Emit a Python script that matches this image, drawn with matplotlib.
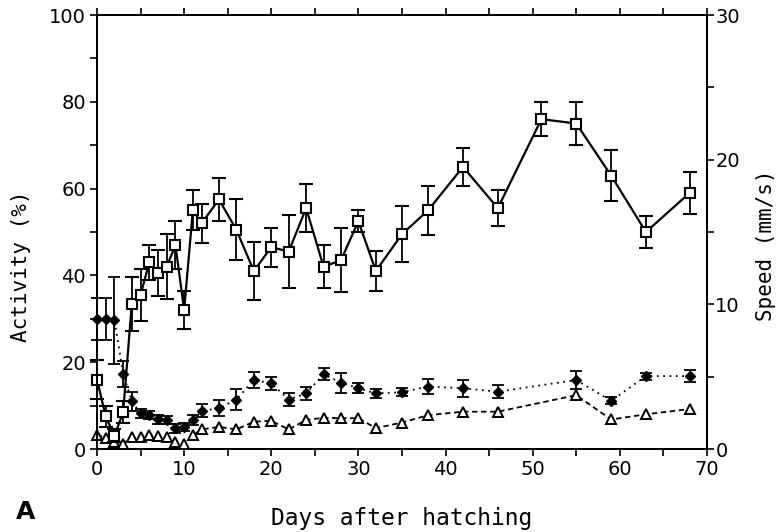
"""
Activity / speed after hatching — redraw of panel A.
Three series on a shared day axis, speed scale mirrored on the right.
"""
import matplotlib
matplotlib.use("Agg")
import matplotlib.pyplot as plt
from matplotlib.ticker import MultipleLocator

# ── data ──────────────────────────────────────────────────────────────────────
sq_days = [0, 1, 2, 3, 4, 5, 6, 7, 8, 9, 10, 11, 12, 14, 16, 18, 20, 22, 24, 26,
           28, 30, 32, 35, 38, 42, 46, 51, 55, 59, 63, 68]
sq_vals = [16, 7.5, 3, 8.5, 33.5, 35.5, 43, 40.5, 42, 47, 32, 55, 52, 57.5, 50.5,
           41, 46.5, 45.5, 55.5, 42, 43.5, 52.5, 41, 49.5, 55, 65, 55.5, 76, 75,
           63, 50, 59]
sq_err  = [4.5, 2.5, 1.5, 2.5, 6.2, 6, 4, 5.3, 7.5, 5.6, 4.4, 4.6, 4.5, 5, 7,
           6.6, 4.5, 8.4, 5.6, 4.9, 7.4, 2.5, 4.6, 6.4, 5.7, 4.4, 4.1, 3.9, 4.9,
           5.9, 3.8, 4.8]

dm_days = [0, 1, 2, 3, 4, 5, 6, 7, 8, 9, 10, 11, 12, 14, 16, 18, 20, 22, 24, 26,
           28, 30, 32, 35, 38, 42, 46, 55, 59, 63, 68]
dm_vals = [30, 30, 29.7, 17.3, 11, 8.2, 7.8, 6.8, 6.7, 4.8, 5.1, 6.7, 8.8, 9.4,
           11.4, 15.9, 15.1, 11.4, 12.8, 17.2, 15.3, 14, 12.8, 13.1, 14.4, 14,
           13.2, 15.9, 11.1, 16.8, 16.8]
dm_err  = [4.8, 4.8, 10, 3, 2.2, 1, 1, 1, 1, 1, 1, 1.2, 1.5, 1.8, 2.4, 1.8, 1.5,
           1.6, 1.5, 1.4, 2.3, 1.2, 1, 1, 1.8, 2, 1.5, 2, 0.8, 0.8, 1.3]

tr_days = [0, 1, 2, 3, 4, 5, 6, 7, 8, 9, 10, 11, 12, 14, 16, 18, 20, 22, 24, 26,
           28, 30, 32, 35, 38, 42, 46, 55, 59, 63, 68]
tr_vals = [3.3, 2.5, 1.7, 1.2, 2.8, 2.8, 3.2, 3, 2.8, 1.7, 1.2, 3.2, 4.5, 5.1,
           4.5, 6.3, 6.5, 4.5, 6.7, 7.2, 7.1, 7.1, 4.8, 6.1, 7.8, 8.6, 8.6, 12.4,
           6.8, 8, 9.2]

x_ticks  = [0, 10, 20, 30, 40, 50, 60, 70]
yl_ticks = [0, 20, 40, 60, 80, 100]
yr_ticks = [0, 10, 20, 30]

MONO = "DejaVu Sans Mono"
INK = "black"


def main():
    fig = plt.figure(figsize=(7.81, 5.32), dpi=100)
    ax = fig.add_axes([0.1242, 0.156, 0.781, 0.8158])

    # ── series ────────────────────────────────────────────────────────────────
    ax.errorbar(dm_days, dm_vals, yerr=dm_err, fmt="D", ls=(0, (1, 2.5)),
                color=INK, lw=1.3, ms=5, mfc=INK, mec=INK, elinewidth=1.3,
                capsize=4.5, capthick=1.3, zorder=3, clip_on=False)
    ax.plot(tr_days, tr_vals, marker="^", ls=(0, (3, 2)), color=INK, lw=1.3,
            ms=7.5, mfc="white", mec=INK, mew=1.4, zorder=4, clip_on=False)
    ax.errorbar(sq_days, sq_vals, yerr=sq_err, fmt="s", ls="-", color=INK,
                lw=1.6, ms=6.5, mfc="white", mec=INK, mew=1.5, elinewidth=1.3,
                capsize=5, capthick=1.3, zorder=5, clip_on=False)

    # ── axes / ticks ──────────────────────────────────────────────────────────
    ax.set_xlim(0, 70); ax.set_ylim(0, 100)
    ax.set_xticks(x_ticks); ax.set_yticks(yl_ticks)
    ax.xaxis.set_minor_locator(MultipleLocator(5))
    ax.yaxis.set_minor_locator(MultipleLocator(10))
    ax.tick_params(which="both", direction="out", length=5, width=1.2,
                   labelsize=14, pad=3, top=True)
    for s in ax.spines.values():
        s.set_linewidth(1.4)

    ax2 = ax.twinx()
    ax2.set_ylim(0, 30)
    ax2.set_yticks(yr_ticks)
    ax2.yaxis.set_minor_locator(MultipleLocator(5))
    ax2.tick_params(which="both", direction="out", length=5, width=1.2,
                    labelsize=14, pad=1)
    for s in ax2.spines.values():
        s.set_linewidth(1.4)

    ax.set_xlabel("Days after hatching", family=MONO, fontsize=16.5)
    ax.set_ylabel("Activity (%)", family=MONO, fontsize=15)
    ax2.set_ylabel("Speed (mm/s)", family=MONO, fontsize=15)
    ax.xaxis.set_label_coords(0.5, -0.134)
    ax.yaxis.set_label_coords(-0.108, 0.42)
    ax2.yaxis.set_label_coords(1.08, 0.47)

    fig.text(0.02, 0.025, "A", fontsize=18, fontweight="bold")

    fig.savefig("out.png", dpi=100)
    plt.close(fig)


if __name__ == "__main__":
    main()
